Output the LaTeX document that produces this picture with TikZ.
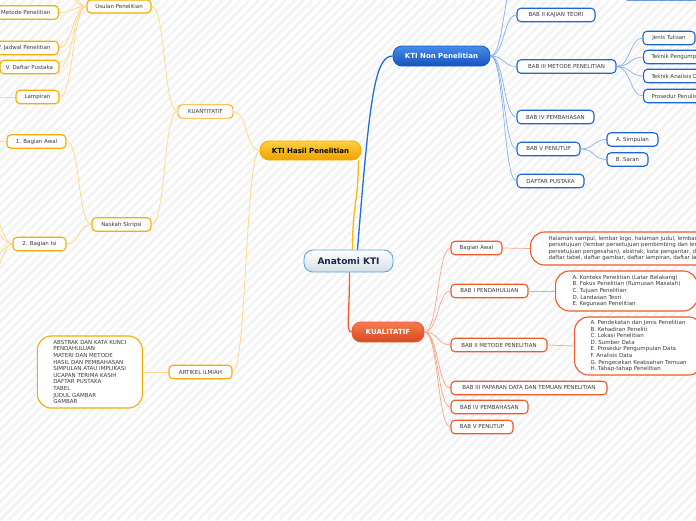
\documentclass[tikz,border=0pt]{standalone}
\usepackage{fontspec}
\setmainfont{DejaVu Sans}
\definecolor{nblue}{HTML}{1E64D4}
\definecolor{norange}{HTML}{F7AC00}
\definecolor{nred}{HTML}{EE5A2A}
\definecolor{cblue}{HTML}{86B0EE}
\definecolor{corange}{HTML}{FFD98C}
\definecolor{cred}{HTML}{F8A68A}
\definecolor{tblue}{HTML}{1F6EE0}
\definecolor{torange}{HTML}{F8BA10}
\definecolor{tred}{HTML}{F05A28}
\definecolor{txtc}{HTML}{3A3A3A}
\definecolor{stripec}{HTML}{F3F3F3}
\definecolor{navy}{HTML}{1B2A4A}
\definecolor{cenborder}{HTML}{5EA6DC}
\definecolor{cenbottom}{HTML}{D5DEE6}
\definecolor{khptop}{HTML}{FFD040}
\definecolor{khpbot}{HTML}{ECA200}
\definecolor{knptop}{HTML}{468CE8}
\definecolor{knpbot}{HTML}{1454BE}
\definecolor{knpborder}{HTML}{1D5FC8}
\definecolor{kualtop}{HTML}{F67C50}
\definecolor{kualbot}{HTML}{D84820}
\newcommand\fsm{\fontsize{5.5}{6.6}\selectfont}
\newcommand\fmn{\fontsize{7}{8}\selectfont\bfseries}
\newcommand\fcn{\fontsize{9}{10}\selectfont\bfseries}
\begin{document}
\begin{tikzpicture}[x=1pt,y=-1pt,
  smallbase/.style={fill=white, rounded corners=4pt, font=\fsm, text=txtc, inner xsep=5pt, inner ysep=0pt, minimum height=13.5pt, line width=1.1pt},
  bnode/.style={smallbase, draw=nblue},
  onode/.style={smallbase, draw=norange},
  rnode/.style={smallbase, draw=nred},
  tbox/.style={fill=white, rounded corners=14pt, font=\fsm, text=txtc, align=left, inner ysep=2pt, line width=1.1pt},
  bconn/.style={draw=cblue, line width=0.7pt},
  oconn/.style={draw=corange, line width=0.8pt},
  rconn/.style={draw=cred, line width=0.7pt},
  mainnode/.style={rounded corners=9pt, line width=0.9pt, inner sep=0pt}
]
\useasboundingbox (0,0) rectangle (696,520);
\clip (0,0) rectangle (696,520);
\fill[white] (0,0) rectangle (696,520);
\foreach \i in {-522,-513,...,700} \draw[stripec, line width=2.6pt] (\i,520) -- ++(520,-520);

% ---- main nodes
\node[mainnode, minimum width=89pt, minimum height=22pt, top color=white, bottom color=cenbottom, draw=cenborder, font=\fcn, text=navy] (anat) at (348.5,261) {Anatomi KTI};
\node[mainnode, minimum width=101pt, minimum height=19pt, top color=khptop, bottom color=khpbot, draw=norange, font=\fmn, text=black] (khp) at (310.5,150.5) {KTI Hasil Penelitian};
\node[mainnode, minimum width=97pt, minimum height=20pt, top color=knptop, bottom color=knpbot, draw=knpborder, font=\fmn, text=white] (knp) at (441.5,56) {KTI Non Penelitian};
\node[mainnode, minimum width=72pt, minimum height=20pt, top color=kualtop, bottom color=kualbot, draw=nred, font=\fmn, text=white] (kual) at (388,332) {KUALITATIF};

% ---- blue branch
\node[bnode, minimum width=90pt, minimum height=20pt, anchor=south west] (topn) at (623,0.5) {};
\node[bnode, minimum width=78pt] (b2) at (556,15) {BAB II KAJIAN TEORI};
\node[bnode, minimum width=99pt] (b3) at (566.5,66.5) {BAB III METODE PENELITIAN};
\node[bnode, minimum width=77pt] (b4) at (555.5,117) {BAB IV PEMBAHASAN};
\node[bnode, minimum width=63pt] (b5) at (548.5,149) {BAB V PENUTUP};
\node[bnode, minimum width=67pt] (dp) at (550.5,181) {DAFTAR PUSTAKA};
\node[bnode, minimum width=52pt] (jt) at (669,38) {Jenis Tulisan};
\node[bnode, anchor=west, inner xsep=8pt] (tp) at (643,57) {Teknik Pengumpulan Data};
\node[bnode, anchor=west, inner xsep=8pt] (ta) at (643,76) {Teknik Analisis Data};
\node[bnode, anchor=west, inner xsep=8pt] (pp) at (643,96) {Prosedur Penulisan};
\node[bnode, minimum width=51pt] (sa) at (632.5,139.5) {A. Simpulan};
\node[bnode, minimum width=41pt] (sb) at (627.5,159.5) {B. Saran};
\coordinate (bt) at (517,-25);

% ---- red branch
\node[rnode, minimum width=51pt] (qa) at (476.5,248) {Bagian Awal};
\node[rnode, minimum width=77pt] (q1) at (489.5,291) {BAB I PENDAHULUAN};
\node[rnode, minimum width=96pt] (q2) at (499,345) {BAB II METODE PENELITIAN};
\node[rnode, minimum width=156pt] (q3) at (529,388) {BAB III PAPARAN DATA DAN TEMUAN PENELITIAN};
\node[rnode, minimum width=77pt] (q4) at (489.5,407) {BAB IV PEMBAHASAN};
\node[rnode, minimum width=62pt] (q5) at (482,427) {BAB V PENUTUP};
\node[tbox, draw=nred, anchor=west, inner xsep=18pt, minimum height=33pt] (qabox) at (530,248.5) {Halaman sampul, lembar logo, halaman judul, lembar\\persetujuan (lembar persetujuan pembimbing dan lembar\\persetujuan pengesahan), abstrak, kata pengantar, daftar isi,\\daftar tabel, daftar gambar, daftar lampiran, daftar lambang};
\node[tbox, draw=nred, anchor=west, inner xsep=17pt, minimum height=40pt] (q1box) at (555,291) {A. Konteks Penelitian (Latar Belakang)\\B. Fokus Penelitian (Rumusan Masalah)\\C. Tujuan Penelitian\\D. Landasan Teori\\E. Kegunaan Penelitian};
\node[tbox, draw=nred, anchor=west, inner xsep=16pt, minimum height=58pt] (q2box) at (574,346) {A. Pendekatan dan Jenis Penelitian\\B. Kehadiran Peneliti\\C. Lokasi Penelitian\\D. Sumber Data\\E. Prosedur Pengumpulan Data\\F. Analisis Data\\G. Pengecekan Keabsahan Temuan\\H. Tahap-tahap Penelitian};

% ---- orange branch
\node[onode, minimum width=55pt, line width=0.9pt] (kn) at (205.5,111.5) {KUANTITATIF};
\node[onode, minimum width=63pt] (ai) at (200.5,372) {ARTIKEL ILMIAH};
\node[onode, minimum width=64pt, minimum height=13pt] (up) at (119,6.5) {Usulan Penelitian};
\node[onode, minimum width=59pt] (ns) at (121.5,224.5) {Naskah Skripsi};
\node[onode, anchor=east, inner xsep=8pt] (m3) at (59,12.5) {III. Metode Penelitian};
\node[onode, anchor=east, inner xsep=8pt] (m4) at (59,48) {IV. Jadwal Penelitian};
\node[onode, minimum width=59pt] (m5) at (29.5,67) {V. Daftar Pustaka};
\node[onode, minimum width=43pt] (lp) at (37.5,97) {Lampiran};
\node[onode, minimum width=59pt] (ba1) at (36.5,141.5) {1. Bagian Awal};
\node[onode, minimum width=53pt] (bi2) at (39.5,244) {2. Bagian Isi};
\node[tbox, draw=norange, anchor=east, inner xsep=16pt, minimum height=72pt] (artbox) at (143,372) {ABSTRAK DAN KATA KUNCI\\PENDAHULUAN\\MATERI DAN METODE\\HASIL DAN PEMBAHASAN\\SIMPULAN ATAU IMPLIKASI\\UCAPAN TERIMA KASIH\\DAFTAR PUSTAKA\\TABEL\\JUDUL GAMBAR\\GAMBAR};
\coordinate (u1) at (59,-12);
\coordinate (u2) at (59,-32);
\coordinate (lpc) at (-20,97);
\coordinate (bac) at (-20,141.5);
\coordinate (i1) at (-20,185);
\coordinate (i2) at (-20,215);
\coordinate (i3) at (-20,275);
\coordinate (i4) at (-20,305);

% ---- connectors
\draw[torange, line width=1.3pt] ([xshift=4pt]anat.north) .. controls +(0,-45) and +(0,40) .. ([xshift=-3pt]khp.south east);
\draw[tblue, line width=1.3pt] ([xshift=9pt]anat.north) .. controls +(12,-150) and +(-18,0) .. (knp.west);
\draw[tred, line width=1.3pt] ([xshift=1pt]anat.south) .. controls +(0,45) and +(-6,0) .. (kual.west);

\foreach \k in {b2,b3,b4,b5,dp} \draw[bconn] (knp.east) .. controls +(14,0) and +(-13,0) .. (\k.west);
\draw[bconn] (knp.east) .. controls +(14,0) and +(-13,0) .. (bt);
\foreach \k in {jt,tp,ta,pp} \draw[bconn] (b3.east) .. controls +(14,0) and +(-13,0) .. (\k.west);
\foreach \k in {sa,sb} \draw[bconn] (b5.east) .. controls +(14,0) and +(-13,0) .. (\k.west);

\foreach \k in {qa,q1,q2,q3,q4,q5} \draw[rconn] (kual.east) .. controls +(14,0) and +(-13,0) .. (\k.west);
\draw[rconn] (qa.east) -- (qabox.west);
\draw[rconn] (q1.east) -- (q1box.west);
\draw[rconn] (q2.east) -- (q2box.west);

\foreach \k in {kn,ai} \draw[oconn] (khp.west) .. controls +(-14,0) and +(14,0) .. (\k.east);
\foreach \k in {up,ns} \draw[oconn] (kn.west) .. controls +(-14,0) and +(14,0) .. (\k.east);
\foreach \k in {m3,m4,m5,lp} \draw[oconn] (up.west) .. controls +(-14,0) and +(14,0) .. (\k.east);
\draw[oconn] (up.west) .. controls +(-14,0) and +(14,0) .. (u1);
\draw[oconn] (up.west) .. controls +(-14,0) and +(14,0) .. (u2);
\foreach \k in {ba1,bi2} \draw[oconn] (ns.west) .. controls +(-14,0) and +(14,0) .. (\k.east);
\draw[oconn] (lp.west) -- (lpc);
\draw[oconn] (ba1.west) -- (bac);
\draw[oconn] (bi2.west) .. controls +(-12,0) and +(12,0) .. (i1);
\draw[oconn] (bi2.west) .. controls +(-12,0) and +(12,0) .. (i2);
\draw[oconn] (bi2.west) .. controls +(-12,0) and +(12,0) .. (i3);
\draw[oconn] (bi2.west) .. controls +(-12,0) and +(12,0) .. (i4);
\draw[oconn] (ai.west) -- (artbox.east);
\end{tikzpicture}
\end{document}
